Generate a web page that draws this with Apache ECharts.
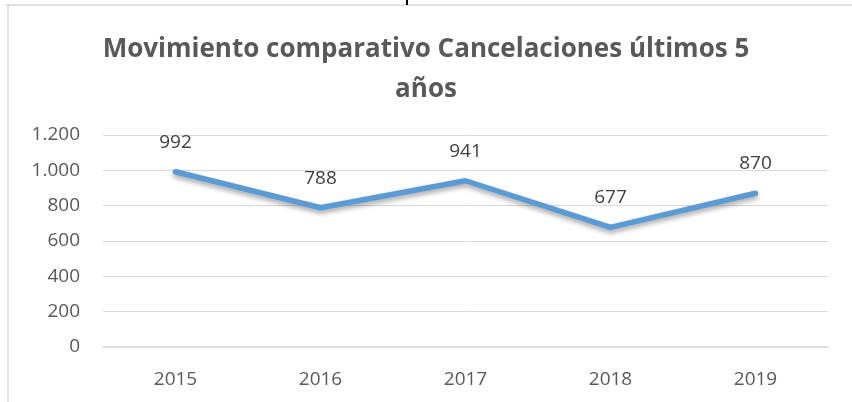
<!DOCTYPE html>
<html>
<head>
<meta charset="utf-8">
<script src="https://cdn.jsdelivr.net/npm/echarts@6/dist/echarts.min.js"></script>
<style>
  html, body { margin: 0; padding: 0; background: #fff; }
  #chart { width: 852px; height: 402px; }
</style>
</head>
<body>
<div id="chart"></div>
<script>
var years = ['2015', '2016', '2017', '2018', '2019'];
var cancelaciones = [992, 788, 941, 677, 870];
var yTicks = [0, 200, 400, 600, 800, 1000, 1200];

var chart = echarts.init(document.getElementById('chart'), null, { renderer: 'canvas' });
var font = '"Open Sans", "Liberation Sans", sans-serif';

function fmt(v) {
  return String(v).replace(/\B(?=(\d{3})+(?!\d))/g, '.');
}

chart.setOption({
  animation: false,
  title: {
    text: 'Movimiento comparativo Cancelaciones últimos 5\naños',
    left: 'center',
    top: 25,
    textStyle: {
      fontFamily: font,
      fontSize: 26,
      fontWeight: 'bold',
      color: '#595959',
      lineHeight: 40
    }
  },
  graphic: [
    { type: 'line', shape: { x1: 5, y1: 5, x2: 852, y2: 5 }, style: { stroke: '#d9d9d9', lineWidth: 1.5 } },
    { type: 'line', shape: { x1: 8, y1: 5, x2: 8, y2: 402 }, style: { stroke: '#d9d9d9', lineWidth: 1.5 } },
    { type: 'line', shape: { x1: 407, y1: 0, x2: 407, y2: 5 }, style: { stroke: '#000', lineWidth: 2 } }
  ],
  grid: { left: 103, right: 24, top: 135, bottom: 55, containLabel: false },
  xAxis: {
    type: 'category',
    data: years,
    boundaryGap: true,
    axisLine: { show: true, lineStyle: { color: '#d9d9d9', width: 1.5 } },
    axisTick: { show: false },
    axisLabel: { color: '#595959', fontFamily: font, fontSize: 19, margin: 23 }
  },
  yAxis: {
    type: 'value',
    min: yTicks[0],
    max: yTicks[yTicks.length - 1],
    interval: 200,
    axisLine: { show: false },
    axisTick: { show: false },
    axisLabel: { color: '#595959', fontFamily: font, fontSize: 19, margin: 23, formatter: fmt },
    splitLine: { lineStyle: { color: '#d9d9d9', width: 1 } }
  },
  series: [{
    type: 'line',
    data: cancelaciones,
    symbol: 'circle',
    symbolSize: 2,
    showSymbol: true,
    itemStyle: { color: 'rgba(91,155,213,0)', borderWidth: 0 },
    lineStyle: {
      color: '#5b9bd5',
      width: 5.5,
      cap: 'round',
      join: 'round',
      shadowColor: 'rgba(0,0,0,0.35)',
      shadowBlur: 5,
      shadowOffsetY: 3
    },
    label: {
      show: true,
      position: 'top',
      distance: 19,
      color: '#404040',
      fontFamily: font,
      fontSize: 19
    }
  }]
});
window.addEventListener('resize', function() { chart.resize(); });
</script>
</body>
</html>
